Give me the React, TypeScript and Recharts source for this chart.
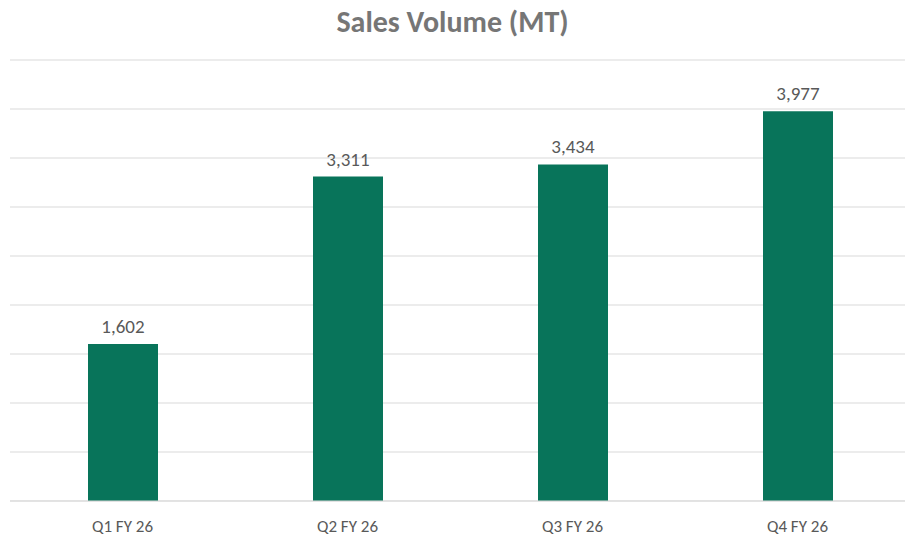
import { Bar, BarChart, CartesianGrid, LabelList, XAxis, YAxis } from "recharts";

const quarters = ["Q1 FY 26", "Q2 FY 26", "Q3 FY 26", "Q4 FY 26"];
const volumes = [1602, 3311, 3434, 3977];
const yTicks = [0, 500, 1000, 1500, 2000, 2500, 3000, 3500, 4000, 4500];

const data = quarters.map((q, i) => ({ quarter: q, volume: volumes[i] }));

const FONT = "Carlito, Calibri, Lato, sans-serif";
const TEXT = "#595959";

export default function App() {
  return (
    <div
      style={{
        position: "absolute",
        left: 0,
        top: 0,
        width: 905,
        height: 538,
        overflow: "hidden",
        background: "#fff",
        fontFamily: FONT,
      }}
    >
      <div
        style={{
          position: "absolute",
          top: 4,
          left: 0,
          width: 905,
          textAlign: "center",
          fontSize: 30,
          lineHeight: "36px",
          fontWeight: 700,
          color: "#767676",
        }}
      >
        Sales Volume (MT)
      </div>
      <BarChart
        width={912}
        height={538}
        data={data}
        margin={{ top: 60, right: 2, left: 10, bottom: 7 }}
        barSize={70}
      >
        <CartesianGrid vertical={false} stroke="#d9d9d9" />
        <XAxis
          dataKey="quarter"
          tickLine={false}
          axisLine={{ stroke: "#d9d9d9" }}
          tick={{ fill: TEXT, fontSize: 17, fontFamily: FONT }}
          tickMargin={13}
        />
        <YAxis hide domain={[0, 4500]} ticks={yTicks} />
        <Bar dataKey="volume" fill="#08745a" isAnimationActive={false}>
          <LabelList
            dataKey="volume"
            position="top"
            offset={11}
            formatter={(v: number) => v.toLocaleString("en-US")}
            style={{ fill: TEXT, fontSize: 19, fontFamily: FONT }}
          />
        </Bar>
      </BarChart>
    </div>
  );
}
